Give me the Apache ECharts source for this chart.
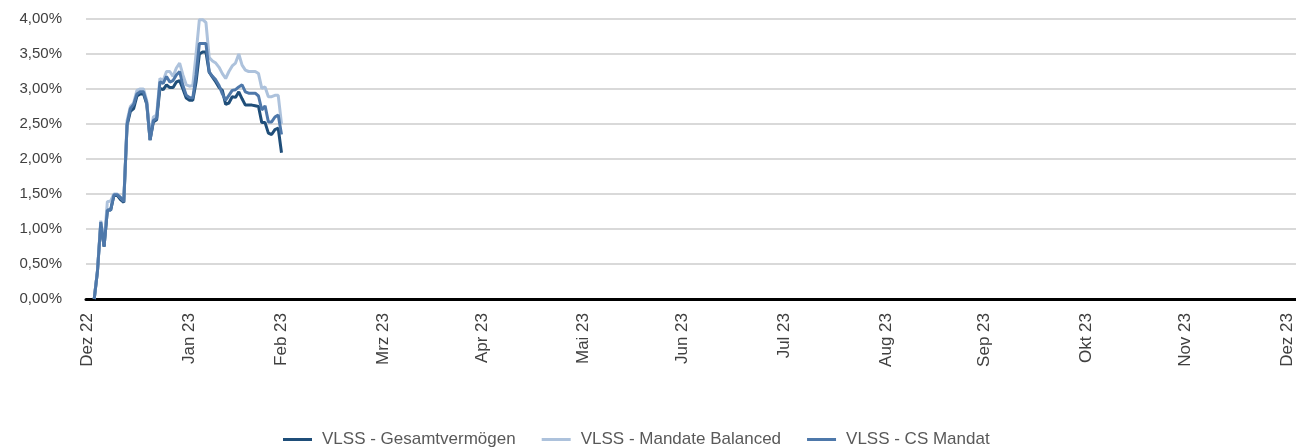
<html lang="de">
<head>
    <meta charset="UTF-8">
    <title>VLSS</title>
    <script src="https://cdn.jsdelivr.net/npm/echarts@6/dist/echarts.min.js"></script>
    <style type="text/css">
        html, body { margin: 0; padding: 0; background: #fff; }
        #main { width: 1296px; height: 447px; }
    </style>
</head>
<body>
    <div id="main"></div>
    <script type="text/javascript">
        // Tagesdaten Jan/Feb 2023 (Performance in %)
        var dates = [
            '2023-01-02', '2023-01-03', '2023-01-04', '2023-01-05', '2023-01-06', '2023-01-07', '2023-01-08',
            '2023-01-09', '2023-01-10', '2023-01-11', '2023-01-12', '2023-01-13', '2023-01-14', '2023-01-15',
            '2023-01-16', '2023-01-17', '2023-01-18', '2023-01-19', '2023-01-20', '2023-01-21', '2023-01-22',
            '2023-01-23', '2023-01-24', '2023-01-25', '2023-01-26', '2023-01-27', '2023-01-28', '2023-01-29',
            '2023-01-30', '2023-01-31', '2023-02-01', '2023-02-02', '2023-02-03', '2023-02-04', '2023-02-05',
            '2023-02-06', '2023-02-07', '2023-02-08', '2023-02-09', '2023-02-10', '2023-02-11', '2023-02-12',
            '2023-02-13', '2023-02-14', '2023-02-15', '2023-02-16', '2023-02-17', '2023-02-18', '2023-02-19',
            '2023-02-20', '2023-02-21', '2023-02-22', '2023-02-23', '2023-02-24', '2023-02-25', '2023-02-26',
            '2023-02-27', '2023-02-28'
        ];
        var gesamt = [0, 0.40, 1.08, 0.75, 1.27, 1.27, 1.48, 1.48, 1.42, 1.38, 2.48, 2.68, 2.72, 2.90, 2.93, 2.93,
            2.78, 2.27, 2.53, 2.56, 3.01, 2.99, 3.06, 3.02, 3.02, 3.10, 3.12, 3.00, 2.87, 2.84, 2.84, 3.10, 3.50,
            3.53, 3.53, 3.24, 3.17, 3.10, 3.02, 2.98, 2.78, 2.80, 2.89, 2.88, 2.96, 2.86, 2.77, 2.77, 2.77, 2.76,
            2.75, 2.52, 2.52, 2.37, 2.35, 2.42, 2.44, 2.09];
        var balanced = [0, 0.42, 1.12, 0.78, 1.39, 1.40, 1.50, 1.50, 1.45, 1.40, 2.55, 2.75, 2.80, 2.98, 3.00, 3.00,
            2.83, 2.30, 2.60, 2.63, 3.15, 3.12, 3.25, 3.25, 3.18, 3.30, 3.37, 3.20, 3.06, 3.04, 3.05, 3.50, 3.99,
            3.99, 3.95, 3.45, 3.40, 3.37, 3.31, 3.22, 3.15, 3.25, 3.33, 3.37, 3.50, 3.34, 3.27, 3.25, 3.25, 3.25,
            3.22, 3.01, 3.03, 2.89, 2.89, 2.91, 2.91, 2.50];
        var csMandat = [0, 0.40, 1.10, 0.75, 1.27, 1.27, 1.49, 1.49, 1.45, 1.39, 2.50, 2.72, 2.78, 2.93, 2.96, 2.96,
            2.80, 2.27, 2.55, 2.58, 3.10, 3.08, 3.18, 3.10, 3.12, 3.20, 3.25, 3.05, 2.91, 2.88, 2.87, 3.20, 3.65,
            3.65, 3.65, 3.24, 3.18, 3.13, 3.05, 2.93, 2.84, 2.91, 2.98, 2.99, 3.03, 3.06, 2.96, 2.94, 2.94, 2.94,
            2.90, 2.70, 2.76, 2.53, 2.53, 2.60, 2.63, 2.35];
        var seriesNames = ['VLSS - Gesamtvermögen', 'VLSS - Mandate Balanced', 'VLSS - CS Mandat'];

        // Achsenbeschriftung (Monatsende)
        var tickDates = ['2022-12-31', '2023-01-31', '2023-02-28', '2023-03-31', '2023-04-30', '2023-05-31',
            '2023-06-30', '2023-07-31', '2023-08-31', '2023-09-30', '2023-10-31', '2023-11-30', '2023-12-31'];
        var tickLabels = ['Dez 22', 'Jan 23', 'Feb 23', 'Mrz 23', 'Apr 23', 'Mai 23', 'Jun 23',
            'Jul 23', 'Aug 23', 'Sep 23', 'Okt 23', 'Nov 23', 'Dez 23'];

        function toTime(s) {
            return echarts.time.parse(s).getTime();
        }
        var tickTimes = tickDates.map(toTime);

        function pairs(values) {
            return values.map(function (v, i) { return [toTime(dates[i]), v]; });
        }

        var chart = echarts.init(document.getElementById('main'));
        var fontFam = '"Liberation Sans", Arial, sans-serif';
        var option = {
            backgroundColor: '#ffffff',
            animation: false,
            grid: {
                left: 86,
                right: 0,
                top: 19,
                bottom: 148
            },
            legend: {
                left: 278,
                top: 426,
                icon: 'rect',
                itemWidth: 29,
                itemHeight: 3,
                itemGap: 26,
                textStyle: { fontFamily: fontFam, fontSize: 17, color: '#595959', padding: [0, 0, 0, 5] },
                data: seriesNames
            },
            xAxis: {
                type: 'value',
                min: toTime('2022-12-30 12:00'),
                max: toTime('2024-01-02 18:00'),
                axisLine: { show: true, onZero: false, lineStyle: { color: '#000', width: 3 } },
                axisTick: { show: false },
                splitLine: { show: false },
                axisLabel: {
                    customValues: tickTimes,
                    showMinLabel: true,
                    showMaxLabel: true,
                    rotate: 90,
                    margin: 14,
                    fontFamily: fontFam,
                    fontSize: 17,
                    color: '#404040',
                    formatter: function (v) {
                        var idx = tickTimes.indexOf(v);
                        return idx >= 0 ? tickLabels[idx] : '';
                    }
                }
            },
            yAxis: {
                type: 'value',
                min: 0,
                max: 4,
                interval: 0.5,
                axisLine: { show: false },
                axisTick: { show: false },
                splitLine: { lineStyle: { color: '#d9d9d9', width: 2 } },
                axisLabel: {
                    margin: 24,
                    fontFamily: fontFam,
                    fontSize: 15,
                    color: '#404040',
                    formatter: function (v) {
                        return v.toFixed(2).replace('.', ',') + '%';
                    }
                }
            },
            series: [{
                name: seriesNames[0],
                type: 'line',
                showSymbol: false,
                data: pairs(gesamt),
                itemStyle: { color: '#1f4e79' },
                lineStyle: { color: '#1f4e79', width: 3 }
            }, {
                name: seriesNames[1],
                type: 'line',
                showSymbol: false,
                data: pairs(balanced),
                itemStyle: { color: '#adc2dc' },
                lineStyle: { color: '#adc2dc', width: 3 }
            }, {
                name: seriesNames[2],
                type: 'line',
                showSymbol: false,
                data: pairs(csMandat),
                itemStyle: { color: '#4e78aa' },
                lineStyle: { color: '#4e78aa', width: 3 }
            }]
        };
        chart.setOption(option);
    </script>
</body>
</html>
